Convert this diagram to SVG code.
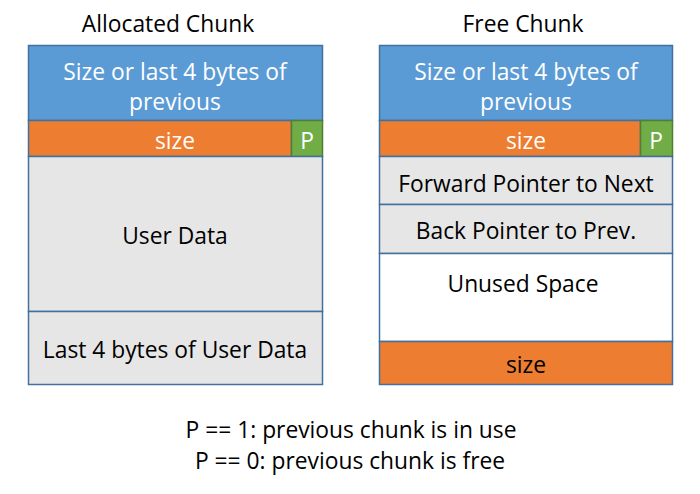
<svg xmlns="http://www.w3.org/2000/svg" width="700" height="494" viewBox="0 0 700 494">
<style>
text{font-family:"Open Sans","Noto Sans","Liberation Sans",sans-serif;font-size:22.8px;text-anchor:middle}
.w{fill:#ffffff}
.k{fill:#000000}
.b{fill:#5B9BD5;stroke:#41719C;stroke-width:1.5}
.o{fill:#ED7D31;stroke:#41719C;stroke-width:1.5}
.g{fill:#70AD47;stroke:#507E32;stroke-width:1.5}
.gr{fill:#E7E6E6;stroke:#41719C;stroke-width:1.5}
.wh{fill:#FFFFFF;stroke:#41719C;stroke-width:1.5}
</style>
<rect width="700" height="494" fill="#ffffff"/>
<g id="allocated">
<text class="k" x="168" y="32">Allocated Chunk</text>
<g id="a-prevsize"><rect class="b" x="28.5" y="45.5" width="294" height="75"/><text class="w" x="175" y="79.5">Size or last 4 bytes of</text><text class="w" x="175" y="109.5">previous</text></g>
<g id="a-size"><rect class="o" x="28.5" y="120.5" width="263" height="36"/><text class="w" x="175" y="148.5">size</text></g>
<g id="a-p"><rect class="g" x="291.5" y="120.5" width="31" height="36"/><text class="w" x="307" y="148.5">P</text></g>
<g id="a-user"><rect class="gr" x="28.5" y="156.5" width="294" height="155"/><text class="k" x="175" y="243.5">User Data</text></g>
<g id="a-last"><rect class="gr" x="28.5" y="311.5" width="294" height="73"/><text class="k" x="175" y="357.5">Last 4 bytes of User Data</text></g>
</g>
<g id="free">
<text class="k" x="523" y="32">Free Chunk</text>
<g id="f-prevsize"><rect class="b" x="379.5" y="45.5" width="293" height="75"/><text class="w" x="526" y="79.5">Size or last 4 bytes of</text><text class="w" x="526" y="109.5">previous</text></g>
<g id="f-size"><rect class="o" x="379.5" y="120.5" width="261" height="36"/><text class="w" x="526" y="148.5">size</text></g>
<g id="f-p"><rect class="g" x="640.5" y="120.5" width="32" height="36"/><text class="w" x="656" y="148.5">P</text></g>
<g id="f-fwd"><rect class="gr" x="379.5" y="156.5" width="293" height="48"/><text class="k" x="526" y="191.5">Forward Pointer to Next</text></g>
<g id="f-bk"><rect class="gr" x="379.5" y="204.5" width="293" height="49"/><text class="k" x="526" y="238.5">Back Pointer to Prev.</text></g>
<g id="f-unused"><rect class="wh" x="379.5" y="253.5" width="293" height="88"/><text class="k" x="523" y="291.5">Unused Space</text></g>
<g id="f-size2"><rect class="o" x="379.5" y="341.5" width="293" height="43"/><text class="k" x="526" y="372.5">size</text></g>
</g>
<g id="legend">
<text class="k" x="351" y="437.5">P == 1: previous chunk is in use</text>
<text class="k" x="350" y="468.5">P == 0: previous chunk is free</text>
</g>
<g id="connectors"></g>
</svg>
